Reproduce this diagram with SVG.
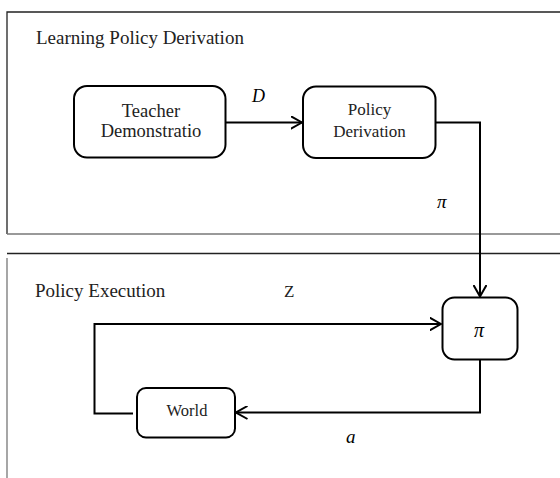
<svg xmlns="http://www.w3.org/2000/svg" width="560" height="478" viewBox="0 0 560 478">
<style>
.frame{fill:none;stroke:#222;stroke-width:1.3}
.frameg{fill:none;stroke:#777;stroke-width:1.3}
.box{fill:#fff;stroke:#000;stroke-width:2}
.conn{fill:none;stroke:#000;stroke-width:2}
.t{font-family:'Liberation Serif','Times New Roman','DejaVu Serif',serif;fill:#222}
.m{font-family:'Liberation Serif','Times New Roman','DejaVu Serif',serif;font-style:italic;fill:#000}
</style>
<defs>
<marker id="arr" viewBox="0 0 12 14" refX="11.5" refY="7" markerWidth="12" markerHeight="14" markerUnits="userSpaceOnUse" orient="auto">
<path d="M0,0.5 L11.5,7 L0,13.5" fill="none" stroke="#000" stroke-width="2"/>
</marker>
</defs>
<g id="frame-learning">
<path class="frame" d="M560,12 H7 V234"/>
<path class="frameg" d="M7,234 H560"/>
<text class="t" x="36" y="44" font-size="19">Learning Policy Derivation</text>
</g>
<g id="frame-execution">
<path class="frame" d="M7,253.5 H560"/>
<path class="frameg" d="M7,258 V478"/>
<text class="t" x="35" y="297" font-size="19">Policy Execution</text>
</g>
<g id="connectors">
<path class="conn" d="M226,122.5 H302" marker-end="url(#arr)"/>
<path class="conn" d="M436,122.5 H480 V296.5" marker-end="url(#arr)"/>
<path class="conn" d="M133,413.5 H94.5 V324 H441" marker-end="url(#arr)"/>
<path class="conn" d="M480,359.5 V412.5 H236" marker-end="url(#arr)"/>
<text class="m" x="252" y="102" font-size="18">D</text>
<text class="m" x="437" y="208" font-size="19">π</text>
<text class="t" x="284" y="297" font-size="17" fill="#000">Z</text>
<text class="m" x="346" y="443" font-size="19">a</text>
</g>
<g id="node-teacher">
<rect class="box" x="74" y="86" width="151.5" height="71.5" rx="13"/>
<text class="t" x="151" y="116.5" font-size="18.5" text-anchor="middle">Teacher</text>
<text class="t" x="151" y="137" font-size="18.5" text-anchor="middle">Demonstratio</text>
</g>
<g id="node-policy-derivation">
<rect class="box" x="303" y="86.5" width="132.5" height="71.5" rx="13"/>
<text class="t" x="369.5" y="114.5" font-size="17" text-anchor="middle">Policy</text>
<text class="t" x="369.5" y="136.5" font-size="17" text-anchor="middle">Derivation</text>
</g>
<g id="node-pi">
<rect class="box" x="442.5" y="297.5" width="75" height="62" rx="12"/>
<text class="m" x="479" y="337" font-size="20" text-anchor="middle">π</text>
</g>
<g id="node-world">
<rect class="box" x="137" y="388" width="98" height="49.5" rx="9"/>
<text class="t" x="187" y="415.5" font-size="16.5" text-anchor="middle">World</text>
</g>
</svg>
